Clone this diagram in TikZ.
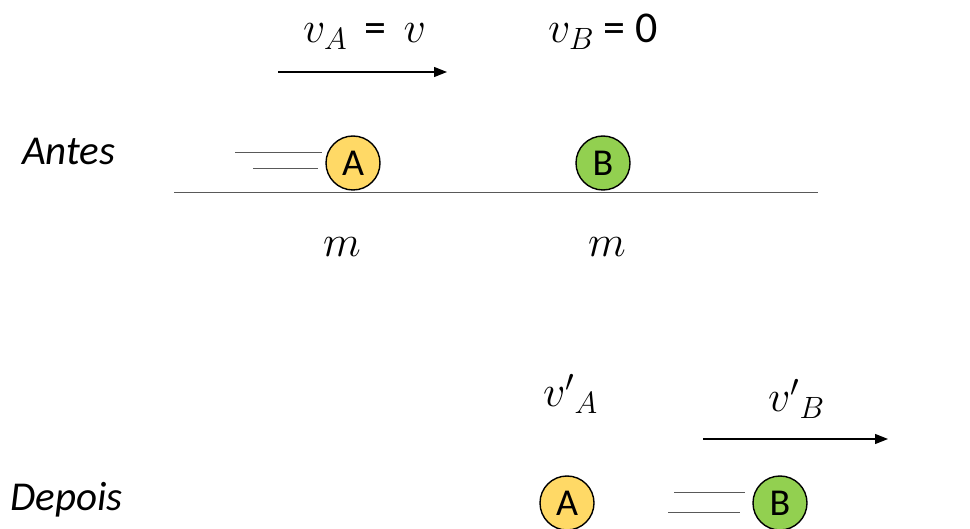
\RequirePackage{fix-cm}
\documentclass[tikz,border=0pt]{standalone}
\usepackage{fontspec}
\setmainfont{Carlito}
\usetikzlibrary{arrows.meta}
\definecolor{ballA}{HTML}{FFD966}
\definecolor{ballB}{HTML}{92D050}
\definecolor{lineg}{HTML}{595959}
\begin{document}
\begin{tikzpicture}[x=1pt,y=-1pt,
  ball/.style={circle,draw=black,line width=1.4pt,minimum size=54pt,inner sep=0pt,font=\fontsize{38}{42}\selectfont},
  lbl/.style={font=\fontsize{41}{48}\selectfont\itshape,anchor=base west,inner sep=0pt},
  mathlbl/.style={font=\fontsize{44}{50}\selectfont,anchor=base west,inner sep=0pt},
  speed/.style={draw=lineg,line width=1pt},
  vel/.style={draw=black,line width=1.2pt,-{Triangle[length=13pt,width=10pt]}}]
\useasboundingbox (0,0) rectangle (970,529);
% labels
\node[lbl] (antes) at (22,165) {Antes};
\node[lbl] (depois) at (10,510) {Depois};
% before
\node[ball,fill=ballA] (A1) at (353,163) {A};
\node[ball,fill=ballB] (B1) at (603,163) {B};
\coordinate (g1) at (174,193);
\coordinate (g2) at (818,193);
\draw[lineg,line width=1pt] (g1) -- (g2);
\coordinate (s1a) at (235,153); \coordinate (s1b) at (322,153);
\coordinate (s2a) at (253,169); \coordinate (s2b) at (318,169);
\draw[speed] (s1a) -- (s1b);
\draw[speed] (s2a) -- (s2b);
\coordinate (va1) at (278,72); \coordinate (va2) at (447,72);
\draw[vel] (va1) -- (va2);
\node[mathlbl] (vA) at (303,43) {$v_A$ \,=\, $v$};
\node[mathlbl] (vB) at (548,43) {$v_B$ = 0};
\node[mathlbl,anchor=base] (mA) at (342,257) {$m$};
\node[mathlbl,anchor=base] (mB) at (607,257) {$m$};
% after
\node[ball,fill=ballA] (A2) at (567,503) {A};
\node[ball,fill=ballB] (B2) at (780,503) {B};
\coordinate (t1a) at (674,492); \coordinate (t1b) at (745,492);
\coordinate (t2a) at (668,512); \coordinate (t2b) at (740,512);
\draw[speed] (t1a) -- (t1b);
\draw[speed] (t2a) -- (t2b);
\coordinate (vb1) at (703,439); \coordinate (vb2) at (888,439);
\draw[vel] (vb1) -- (vb2);
\node[mathlbl] (vpA) at (543,407) {${v'}_{A}$};
\node[mathlbl] (vpB) at (768,412) {${v'}_{B}$};
\end{tikzpicture}
\end{document}
